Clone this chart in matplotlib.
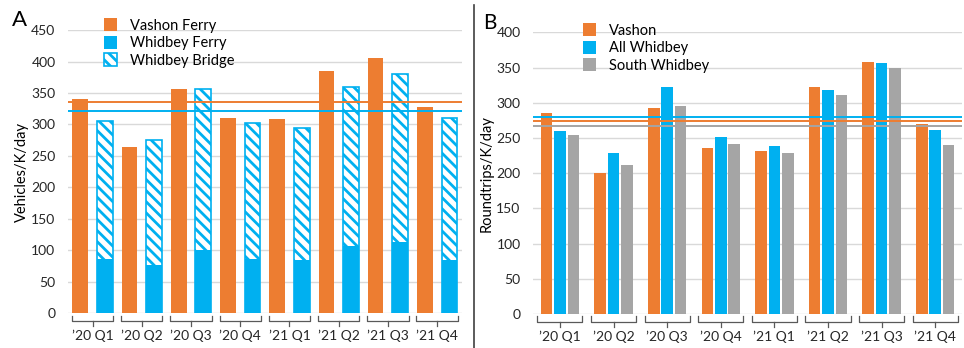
import matplotlib
matplotlib.use("Agg")
import matplotlib.pyplot as plt
import matplotlib.transforms as mtransforms
from matplotlib.lines import Line2D
from matplotlib.patches import Patch
import numpy as np

quarters = ["\u201920 Q1", "\u201920 Q2", "\u201920 Q3", "\u201920 Q4",
            "\u201921 Q1", "\u201921 Q2", "\u201921 Q3", "\u201921 Q4"]

# panel A: vehicles per day (thousands)
vashon_ferry = [340, 264, 356, 310, 308, 385, 406, 328]
whidbey_ferry = [86, 76, 100, 87, 84, 107, 113, 84]
whidbey_total = [305, 276, 356, 303, 294, 360, 380, 311]
vashon_ferry_avg = 336
whidbey_avg = 322

# panel B: roundtrips per day (thousands)
vashon_rt = [285, 200, 293, 235, 232, 322, 358, 270]
all_whidbey_rt = [260, 228, 323, 251, 238, 318, 357, 261]
south_whidbey_rt = [254, 212, 296, 241, 229, 311, 349, 240]
vashon_rt_avg = 274
all_whidbey_rt_avg = 280
south_whidbey_rt_avg = 267

ORANGE = "#ED7D31"
BLUE = "#00B0F0"
GRAY = "#A5A5A5"
GRID = "#D9D9D9"

plt.rcParams["font.family"] = ["Lato", "DejaVu Sans"]
plt.rcParams["font.size"] = 9.5
plt.rcParams["hatch.linewidth"] = 2.0
plt.rcParams["hatch.color"] = BLUE

fig = plt.figure(figsize=(9.64, 3.48), dpi=100)
axA = fig.add_axes([0.0705, 0.0997, 0.4085, 0.814])
axB = fig.add_axes([0.553, 0.0977, 0.445, 0.8095])


def style_axes(ax, ymax):
    ax.set_xlim(-0.5, len(quarters) - 0.5)
    ax.set_ylim(0, ymax)
    ax.set_yticks(np.arange(0, ymax + 1, 50))
    ax.yaxis.grid(True, color=GRID, lw=1)
    ax.set_axisbelow(True)
    for s in ax.spines.values():
        s.set_visible(False)
    ax.tick_params(axis="y", length=0, pad=9, labelsize=10, colors="#262626")
    ax.tick_params(axis="x", length=0, pad=12, labelsize=10, colors="#262626")
    ax.set_xticks(np.arange(len(quarters)))
    ax.set_xticklabels(quarters)
    # bracket under each category
    trans = mtransforms.blended_transform_factory(ax.transData, ax.transAxes)
    for i in range(len(quarters)):
        x0, x1 = i - 0.42, i + 0.42
        ax.add_line(Line2D([x0, x0, x1, x1], [-0.008, -0.028, -0.028, -0.008],
                           transform=trans, color="#595959", lw=0.9, clip_on=False))
        ax.add_line(Line2D([i, i], [-0.028, -0.045], transform=trans,
                           color="#595959", lw=0.9, clip_on=False))


# ---- panel A
x = np.arange(len(quarters))
style_axes(axA, 450)
axA.bar(x - 0.25, vashon_ferry, width=0.32, color=ORANGE)
axA.bar(x + 0.25, whidbey_total, width=0.32, facecolor="white",
        edgecolor=BLUE, hatch="\\\\\\", lw=1.2)
axA.bar(x + 0.25, whidbey_ferry, width=0.32, color=BLUE)
axA.axhline(vashon_ferry_avg, color=ORANGE, lw=1.4)
axA.axhline(whidbey_avg, color=BLUE, lw=1.4)
axA.set_ylabel("Vehicles/K/day", fontsize=10.5)
axA.yaxis.set_label_coords(-0.1, 0.5)
handlesA = [Patch(facecolor=ORANGE), Patch(facecolor=BLUE),
            Patch(facecolor="white", edgecolor=BLUE, hatch="\\\\\\", lw=1.2)]
axA.legend(handlesA, ["Vashon Ferry", "Whidbey Ferry", "Whidbey Bridge"],
           loc="upper left", bbox_to_anchor=(0.057, 1.088), frameon=False,
           fontsize=10.5, handlelength=0.9, handleheight=1.0,
           handletextpad=0.9, labelspacing=0.2)
fig.text(0.012, 0.925, "A", fontsize=16)

# ---- panel B
style_axes(axB, 400)
axB.bar(x - 0.25, vashon_rt, width=0.215, color=ORANGE)
axB.bar(x, all_whidbey_rt, width=0.215, color=BLUE)
axB.bar(x + 0.25, south_whidbey_rt, width=0.215, color=GRAY)
axB.axhline(all_whidbey_rt_avg, color=BLUE, lw=1.4)
axB.axhline(vashon_rt_avg, color=ORANGE, lw=1.4)
axB.axhline(south_whidbey_rt_avg, color=GRAY, lw=1.4)
axB.set_ylabel("Roundtrips/K/day", fontsize=10.5)
axB.yaxis.set_label_coords(-0.092, 0.5)
handlesB = [Patch(facecolor=ORANGE), Patch(facecolor=BLUE), Patch(facecolor=GRAY)]
axB.legend(handlesB, ["Vashon", "All Whidbey", "South Whidbey"],
           loc="upper left", bbox_to_anchor=(0.085, 1.078), frameon=False,
           fontsize=10.5, handlelength=0.9, handleheight=1.0,
           handletextpad=0.9, labelspacing=0.2)
fig.text(0.5015, 0.918, "B", fontsize=15)

# vertical separator between panels
fig.add_artist(Line2D([0.4917, 0.4917], [0.0, 0.985], transform=fig.transFigure,
                      color="#404040", lw=1.2))

fig.savefig("out.png", dpi=100)
